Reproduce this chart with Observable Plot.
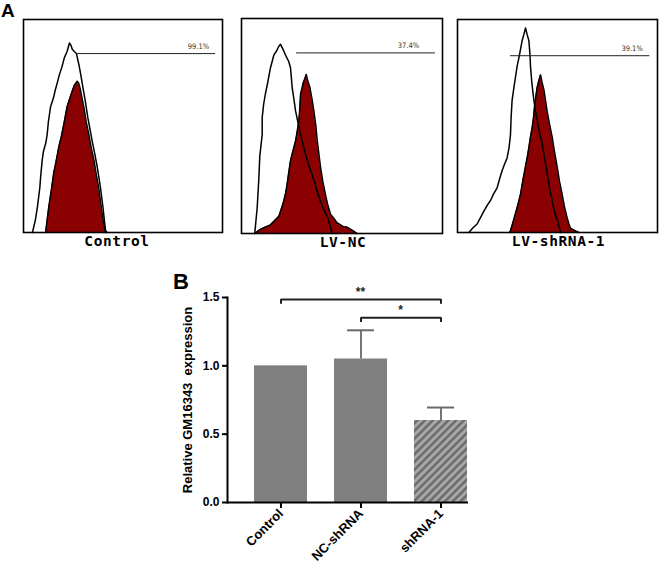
<!DOCTYPE html>
<html>
<head>
<meta charset="utf-8">
<script src="https://cdn.jsdelivr.net/npm/d3@7"></script>
<script src="https://cdn.jsdelivr.net/npm/@observablehq/plot@0.6"></script>
<style>
  html, body { margin: 0; padding: 0; background: #fff; }
  #fig { position: relative; width: 660px; height: 565px; background: #fff; overflow: hidden; }
  #fig > svg, #fig > div { position: absolute; }
  .plabel { font-family: Arial, "Liberation Sans", sans-serif; font-weight: bold; color: #000; line-height: 1.15; }
</style>
</head>
<body>
<div id="fig"></div>
<script>
// ---------- Panel A: flow cytometry histograms [channel, count % of max] ----------
const controlIsotype = [[45,0],[60,6],[70,12],[82,21],[86,26],[94,34],[100,38],[112,42],[119,46],[125,52],[136,59],[150,63],[160,67],[169,70],[180,74],[194,78],[205,82],[219,85],[231,89],[238,88],[245,86],[255,85],[266,84],[278,79],[288,74],[295,70],[310,62],[323,54],[335,48],[345,43],[358,37],[370,31],[387,21],[399,12],[412,1],[420,0]];
const controlStained = [[111,0],[127,12],[140,20],[152,28],[165,34],[177,40],[190,45],[203,51],[219,59],[240,65],[255,69],[270,71],[278,70],[286,67],[303,59],[315,52],[328,46],[340,40],[354,34],[366,27],[378,21],[395,9],[405,3],[412,0]];

const ncIsotype = [[66,0],[72,6],[78,12],[86,25],[91,36],[103,46],[103,54],[110,60],[119,65],[130,70],[144,77],[161,83],[175,85],[185,87],[194,88],[205,86],[219,83],[235,80],[244,77],[252,68],[260,63],[269,57],[280,52],[294,46],[310,40],[327,34],[345,29],[360,25],[375,20],[393,15],[410,11],[426,8],[440,4],[451,0]];
const ncStained = [[66,0],[80,1],[95,2],[120,3],[144,4],[165,6],[186,8],[200,12],[210,15],[220,19],[227,23],[236,29],[244,34],[255,38],[269,43],[278,48],[285,52],[290,58],[294,65],[300,67],[307,70],[315,72],[322,74],[330,71],[340,68],[350,63],[360,57],[370,50],[377,43],[385,37],[393,31],[405,24],[418,18],[430,13],[443,9],[460,7],[475,5],[493,4],[510,3],[525,3],[542,2],[560,1],[575,0]];

const shIsotype = [[57,0],[75,2],[98,4],[115,7],[132,10],[150,13],[165,15],[180,18],[198,21],[210,25],[223,29],[235,32],[248,35],[258,40],[265,46],[268,54],[273,62],[282,68],[290,73],[298,78],[307,82],[315,86],[323,90],[332,93],[340,96],[348,93],[357,90],[362,84],[365,78],[372,70],[382,62],[390,57],[398,53],[410,47],[423,42],[435,35],[448,28],[460,21],[473,15],[485,10],[498,6],[507,3],[515,0]];
const shStained = [[262,0],[275,4],[290,9],[302,13],[315,18],[328,25],[340,31],[350,36],[357,40],[365,45],[373,49],[380,54],[385,59],[392,64],[398,68],[406,71],[415,74],[424,70],[432,67],[440,62],[448,57],[460,51],[473,45],[485,38],[498,31],[510,24],[523,18],[535,12],[548,7],[557,4],[565,2],[585,1],[607,0]];

const panelNames = ["Control", "LV-NC", "LV-shRNA-1"];
const gatePercent = ["99.1%", "37.4%", "39.1%"];
const gateStart = [270, 274, 265];
const gateEnd = [965, 965, 962];
const gateLevel = [84, 84, 83];
const gateLabelX = [879, 831, 873];

// ---------- Panel B: relative expression ----------
const groups = ["Control", "NC-shRNA", "shRNA-1"];
const means = [1.0, 1.05, 0.60];
const sems = [0, 0.21, 0.095];
const hatchedGroups = ["shRNA-1"];
const yTicks = [0, 0.5, 1.0, 1.5];
const comparisons = [
  {from: "Control", to: "shRNA-1", level: 1.485, stars: "**"},
  {from: "NC-shRNA", to: "shRNA-1", level: 1.352, stars: "*"}
];

const fig = document.getElementById("fig");
const RED = "#8B0000";

function place(el, left, top) {
  el.style.left = left + "px";
  el.style.top = top + "px";
  fig.appendChild(el);
}

// layout of the three histogram panels (svg box and margins)
const layouts = [
  {left: 0, width: 230, ml: 23, mr: 8, mt: 19, mb: 28, lx: -6},
  {left: 230, width: 220, ml: 11, mr: 8, mt: 18, mb: 27, lx: 1},
  {left: 450, width: 210, ml: 7, mr: 3, mt: 19, mb: 28, lx: 1}
];
const histos = [[controlIsotype, controlStained], [ncIsotype, ncStained], [shIsotype, shStained]];

histos.forEach(([iso, stained], i) => {
  const L = layouts[i];
  const gate = [{x1: gateStart[i], x2: gateEnd[i], y: gateLevel[i], lx: gateLabelX[i], text: gatePercent[i]}];
  const p = Plot.plot({
    width: L.width, height: 260,
    marginLeft: L.ml, marginRight: L.mr, marginTop: L.mt, marginBottom: L.mb,
    x: {domain: [0, 1000], axis: null},
    y: {domain: [0, 100], axis: null},
    style: {background: "transparent", overflow: "visible"},
    marks: [
      Plot.areaY(stained, {x: d => d[0], y: d => d[1], fill: RED, curve: "linear"}),
      Plot.lineY(iso, {x: d => d[0], y: d => d[1], stroke: "#000", strokeWidth: 1.5, curve: "linear"}),
      Plot.lineY(stained, {x: d => d[0], y: d => d[1], stroke: "#000", strokeWidth: 1.5, curve: "linear"}),
      Plot.ruleY(gate, {x1: "x1", x2: "x2", y: "y", stroke: "#222", strokeWidth: 1}),
      Plot.text(gate, {x: "lx", y: "y", text: "text", dy: -5, lineAnchor: "bottom", fontSize: 7.5,
        fontFamily: "'DejaVu Sans Condensed', 'Liberation Sans Narrow', sans-serif", fill: "#333"}),
      Plot.frame({stroke: "#000", strokeWidth: 1.6}),
      Plot.text([panelNames[i]], {text: d => d, frameAnchor: "bottom", dy: 13, dx: L.lx, fontSize: 14.5,
        fontWeight: "bold", fontFamily: "'DejaVu Sans Mono', monospace", fill: "#000"})
    ]
  });
  p.querySelectorAll("text").forEach(t => { if (t.textContent === panelNames[i]) t.style.letterSpacing = "0.6px"; });
  place(p, L.left, 0);
});

// ---------- Panel B plot ----------
const barData = groups.map((g, i) => ({group: g, mean: means[i], sem: sems[i]}));
const errData = barData.filter(d => d.sem > 0);

const pB = Plot.plot({
  width: 660, height: 305,
  marginLeft: 227, marginRight: 192, marginTop: 37, marginBottom: 63,
  x: {domain: groups, range: [240.5, 480.5], paddingInner: 0.3375, paddingOuter: 0.16875, label: null},
  y: {domain: [0, 1.5], label: null},
  style: {background: "transparent", fontFamily: "Arial, 'Liberation Sans', sans-serif", fontSize: "12px", fontWeight: "bold", color: "#000", overflow: "visible"},
  marks: [
    Plot.barY(barData.filter(d => !hatchedGroups.includes(d.group)), {x: "group", y: "mean", fill: "#808080"}),
    Plot.barY(barData.filter(d => hatchedGroups.includes(d.group)), {x: "group", y: "mean", fill: "url(#hatchB)"}),
    Plot.ruleX(errData, {x: "group", y1: "mean", y2: d => d.mean + d.sem, stroke: "#757575", strokeWidth: 2}),
    Plot.tickY(errData, {x: "group", y: d => d.mean + d.sem, stroke: "#6a6a6a", strokeWidth: 2, insetLeft: 13, insetRight: 13}),
    Plot.link(comparisons, {x1: "from", x2: "to", y1: "level", y2: "level", stroke: "#222", strokeWidth: 2}),
    Plot.ruleX(comparisons, {x: "from", y1: "level", y2: d => d.level - 0.035, stroke: "#222", strokeWidth: 2}),
    Plot.ruleX(comparisons, {x: "to", y1: "level", y2: d => d.level - 0.035, stroke: "#222", strokeWidth: 2}),
    Plot.axisY({ticks: yTicks, tickFormat: d3.format(".1f"), tickSize: 5, tickPadding: 3, strokeWidth: 2, label: null, fontSize: 12}),
    Plot.axisX({tickSize: 6, tickRotate: -45, tickPadding: 3, strokeWidth: 2, label: null, fontSize: 13}),
    Plot.frame({anchor: "left", stroke: "#000", strokeWidth: 2}),
    Plot.ruleY([0], {stroke: "#000", strokeWidth: 2}),
    Plot.text(["Relative GM16343  expression"], {text: d => d, frameAnchor: "left", dx: -40, rotate: -90,
      textAnchor: "middle", fontSize: 13, fontWeight: "bold"})
  ]
});
place(pB, 0, 260);

// star labels centred between compared groups, using Plot's scales
const xs = pB.scale("x");
const ysc = pB.scale("y");
const bw = xs.bandwidth;
const svgB = d3.select(pB);
comparisons.forEach(c => {
  const cx = (xs.apply(c.from) + xs.apply(c.to)) / 2 + bw / 2;
  svgB.append("text")
    .attr("x", cx).attr("y", ysc.apply(c.level) - 3)
    .attr("text-anchor", "middle")
    .attr("font-size", 12).attr("font-weight", "bold")
    .attr("font-family", "Arial, 'Liberation Sans', sans-serif")
    .attr("fill", "#222")
    .text(c.stars);
});

// hatch pattern for shRNA-1
const defs = svgB.insert("defs", ":first-child");
const pat = defs.append("pattern").attr("id", "hatchB").attr("patternUnits", "userSpaceOnUse")
  .attr("width", 5.5).attr("height", 5.5).attr("patternTransform", "rotate(45)");
pat.append("rect").attr("width", 5.5).attr("height", 5.5).attr("fill", "#a9a9a9");
pat.append("rect").attr("width", 2.8).attr("height", 5.5).attr("fill", "#6f6f6f");

// panel letters
const A = document.createElement("div"); A.className = "plabel"; A.textContent = "A"; A.style.fontSize = "19px";
place(A, 1, 0);
const B = document.createElement("div"); B.className = "plabel"; B.textContent = "B"; B.style.fontSize = "22px";
place(B, 173, 269);
</script>
</body>
</html>
